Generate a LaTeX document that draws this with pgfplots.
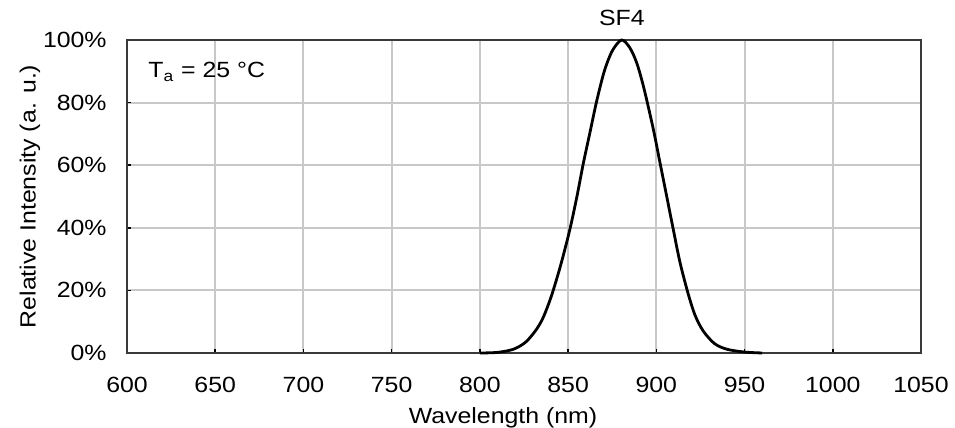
\documentclass[border=0pt]{standalone}
\usepackage{fontspec}
\setmainfont{Liberation Sans}[FakeStretch=1.13]
\usepackage{pgfplots}
\pgfplotsset{compat=1.18}
\definecolor{gridc}{HTML}{C8C8C8}
\definecolor{framec}{HTML}{3A3A3A}
\begin{document}
\begin{tikzpicture}[font=\fontsize{11}{13}\selectfont]
\begin{axis}[
  scale only axis,
  width=397pt, height=156.5pt,
  xmin=600, xmax=1050, ymin=0, ymax=100,
  xtick={600,650,...,1050},
  ytick={0,20,...,100},
  yticklabel={\pgfmathprintnumber{\tick}\%},
  /pgf/number format/assume math mode=true,
  /pgf/number format/1000 sep={},
  grid=major,
  major grid style={gridc, line width=1pt},
  axis line style={framec, line width=1.1pt},
  tick style={black, line width=0.8pt},
  tick align=inside,
  major tick length=2pt,
  xtick pos=left, ytick pos=left,
  xticklabel style={anchor=center, yshift=-16pt, inner sep=0pt},
  yticklabel style={anchor=east, inner sep=0pt, xshift=-10pt},
  xlabel={Wavelength (nm)},
  ylabel={Relative Intensity (a. u.)},
  xlabel style={at={(axis description cs:0.4736,-0.2077)}, anchor=center, inner sep=0pt},
  ylabel style={at={(axis description cs:-0.1222,0.5)}, anchor=center, inner sep=0pt},
  clip=false,
]
\addplot[black, line width=1.4pt, smooth, tension=0.5] coordinates {
(800,0) (810,0.2) (819,1.2) (826,3.5) (832,7.5) (836,11.5) (840.7,18.5)
(846,28.5) (851,39.5) (855,50) (858.6,60.5) (862.4,70.5) (866.2,80.5)
(870.5,90) (875,96.5) (880.3,100) (885,97.5) (889,92.5) (893,84.5)
(898.3,71.5) (902,61) (905.9,50) (909.6,39.5) (913.4,29)
(918,19) (922,12) (926.6,7) (933,3) (940,1.2) (950,0.3) (960,0)
};
\node[anchor=west, inner sep=0pt] at (axis cs:611.9,89.8) {T\textsubscript{a} = 25 °C};
\node[anchor=center, inner sep=0pt] at (axis cs:880.5,107) {SF4};
\end{axis}
\pgfresetboundingbox
\useasboundingbox (-63.5pt,-37.5pt) rectangle (414pt,176.5pt);
\end{tikzpicture}
\end{document}
